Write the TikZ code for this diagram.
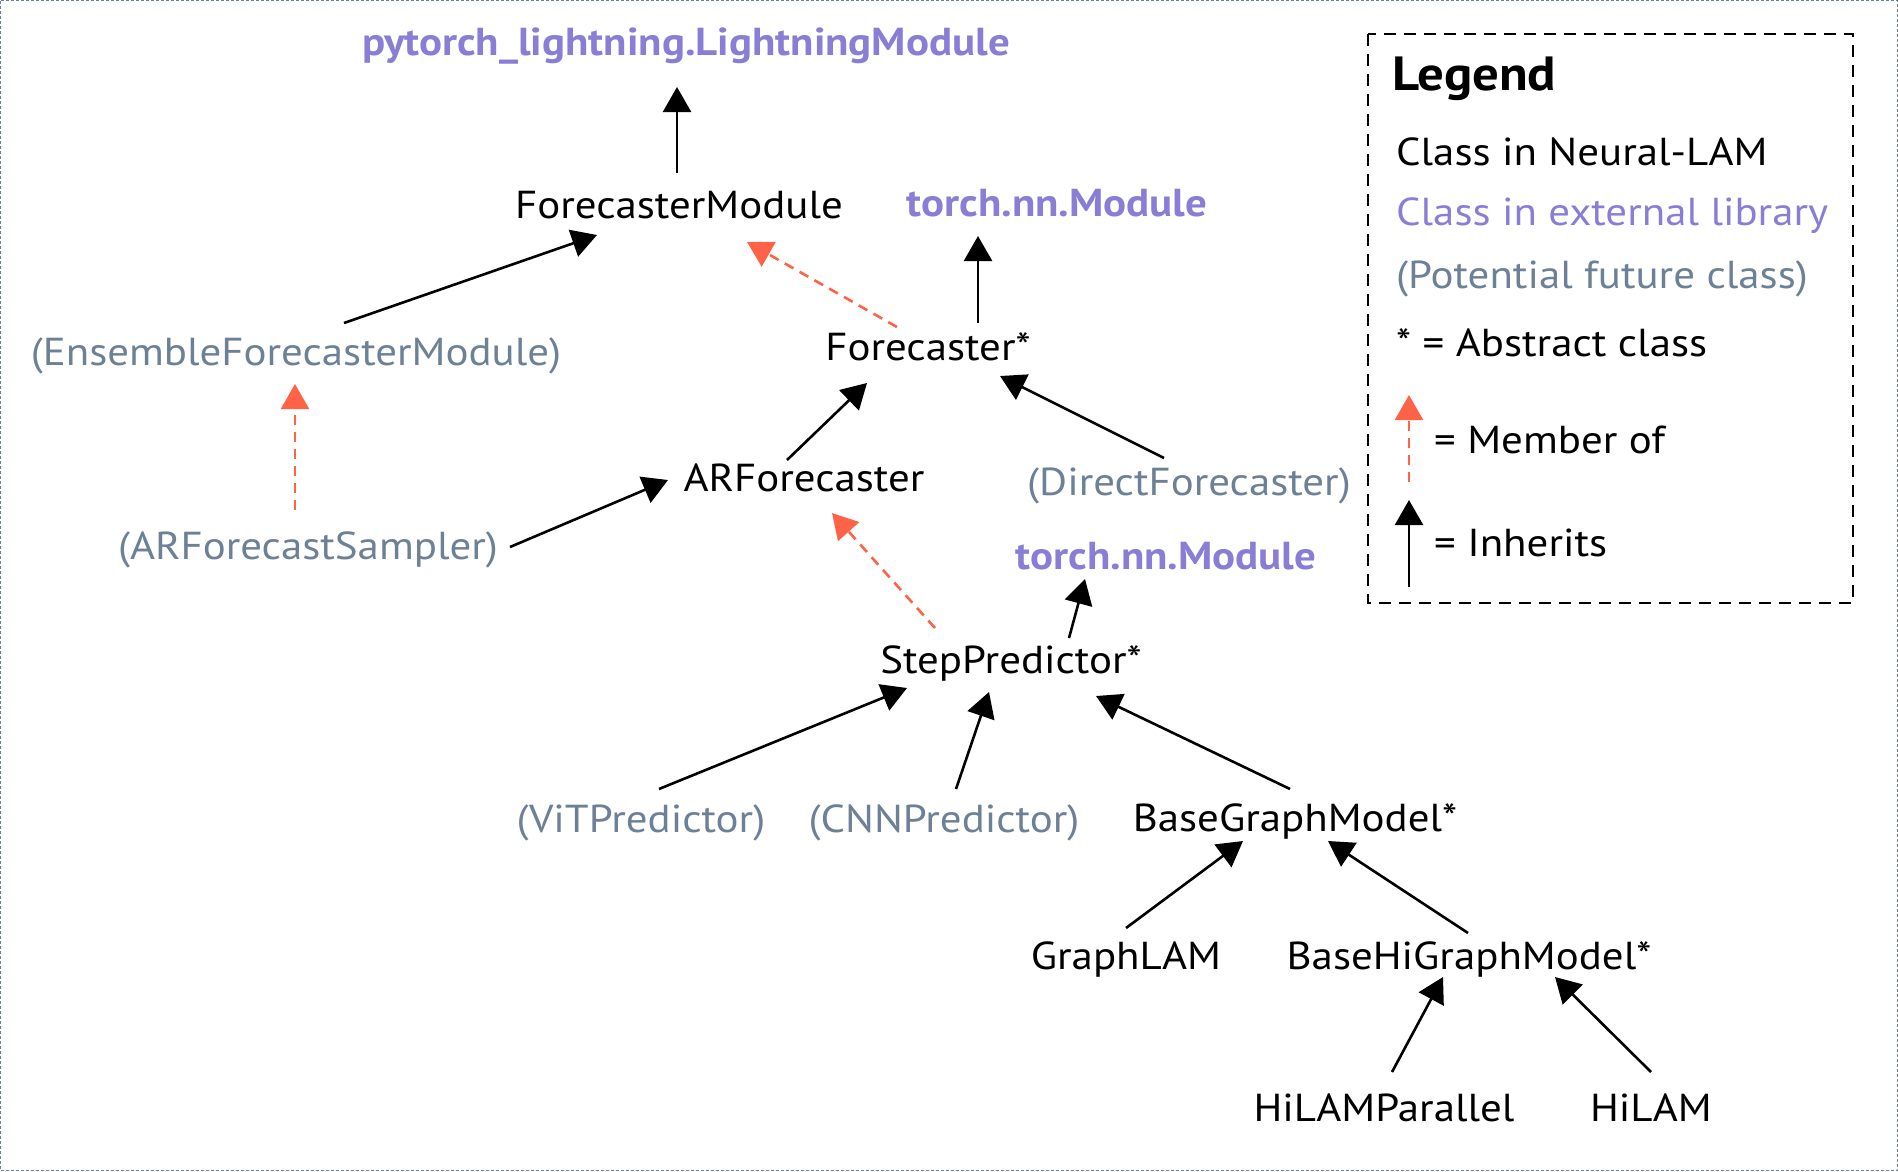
\documentclass[tikz,border=0pt]{standalone}
\usepackage{fontspec}
\setmainfont{PT Sans}[FakeStretch=1.1]
\usetikzlibrary{arrows.meta,calc}

\definecolor{extlib}{RGB}{137,125,214}
\definecolor{future}{RGB}{108,128,150}
\definecolor{member}{RGB}{255,99,71}

\begin{document}
\begin{tikzpicture}[x=1pt,y=-1pt,
   cls/.style={font=\fontsize{39}{44}\selectfont,text height=36pt,text depth=9pt,inner sep=0pt},
   ext/.style={cls,text=extlib,font=\fontsize{39}{44}\selectfont\bfseries},
   fut/.style={cls,text=future},
   lgd/.style={cls,anchor=west},
   inh/.style={-{Triangle[length=25pt,width=28pt]},line width=2.6pt},
   mem/.style={inh,member,dash pattern=on 10pt off 7pt}]
  \useasboundingbox (0,0) rectangle (1898,1171);
  \draw[future,line width=1.2pt,dash pattern=on 3pt off 2pt] (0.6,0.6) rectangle (1897.4,1170.4);

  % classes
  \node[ext] (LM)   at (686,42)   {pytorch\_lightning.LightningModule};
  \node[cls] (FM)   at (679,205)  {ForecasterModule};
  \node[ext] (TNNa) at (1057,203) {torch.nn.Module};
  \node[fut] (EFM)  at (296,352)  {(EnsembleForecasterModule)};
  \node[cls] (F)    at (928,347)  {Forecaster*};
  \node[cls] (ARF)  at (804,478)  {ARForecaster};
  \node[fut] (DF)   at (1189,482) {(DirectForecaster)};
  \node[fut] (ARFS) at (308,546)  {(ARForecastSampler)};
  \node[ext] (TNNb) at (1166,556) {torch.nn.Module};
  \node[cls] (SP)   at (1011,660) {StepPredictor*};
  \node[fut] (ViT)  at (641,819)  {(ViTPredictor)};
  \node[fut] (CNN)  at (944,819)  {(CNNPredictor)};
  \node[cls] (BGM)  at (1295,818) {BaseGraphModel*};
  \node[cls] (GL)   at (1126,956) {GraphLAM};
  \node[cls] (BHGM) at (1469,956) {BaseHiGraphModel*};
  \node[cls] (HLP)  at (1384,1108) {HiLAMParallel};
  \node[cls] (HL)   at (1651,1108) {HiLAM};

  \path
   ($(FM)+(-2,-32)$)    edge[inh] ($(LM)+(-9,45)$)
   ($(EFM)+(48,-29)$)   edge[inh] ($(FM)+(-82,30)$)
   ($(F)+(-31,-20)$)    edge[mem] ($(FM)+(68,37)$)
   ($(F)+(50,-24)$)     edge[inh] ($(TNNa)+(-79,33)$)
   ($(ARF)+(-17,-18)$)  edge[inh] ($(F)+(-61,36)$)
   ($(DF)+(-25,-24)$)   edge[inh] ($(F)+(72,29)$)
   ($(ARFS)+(-13,-36)$) edge[mem] ($(EFM)+(-1,32)$)
   ($(ARFS)+(202,1)$)   edge[inh] ($(ARF)+(-136,2)$)
   ($(SP)+(-76,-32)$)   edge[mem] ($(ARF)+(28,35)$)
   ($(SP)+(58,-22)$)    edge[inh] ($(TNNb)+(-81,23)$)
   ($(ViT)+(18,-30)$)   edge[inh] ($(SP)+(-104,28)$)
   ($(CNN)+(12,-30)$)   edge[inh] ($(SP)+(-22,32)$)
   ($(BGM)+(-5,-29)$)   edge[inh] ($(SP)+(85,36)$)
   ($(GL)+(0,-28)$)     edge[inh] ($(BGM)+(-52,23)$)
   ($(BHGM)+(-1,-23)$)  edge[inh] ($(BGM)+(33,23)$)
   ($(HLP)+(8,-36)$)    edge[inh] ($(BHGM)+(-26,21)$)
   ($(HL)+(0,-36)$)     edge[inh] ($(BHGM)+(86,21)$);

  % legend
  \draw[line width=2.6pt,dash pattern=on 12pt off 8pt] (1368,34) rectangle (1853,603);
  \node[lgd,font=\fontsize{48}{54}\selectfont\bfseries] (lgTitle) at (1392,77) {Legend};
  \node[lgd] (lgOwn) at (1396,152) {Class in Neural-LAM};
  \node[lgd,text=extlib] (lgExt) at (1396,212) {Class in external library};
  \node[lgd,text=future] (lgFut) at (1396,275) {(Potential future class)};
  \node[lgd] (lgAbs) at (1396,343) {* = Abstract class};
  \node[lgd] (lgMem) at (1434,440) {= Member of};
  \node[lgd] (lgInh) at (1434,543) {= Inherits};
  \coordinate (memTail) at (1409,482);
  \coordinate (memTip)  at (1409,395);
  \coordinate (inhTail) at (1409,587);
  \coordinate (inhTip)  at (1409,500);
  \draw[mem] (memTail) -- (memTip);
  \draw[inh] (inhTail) -- (inhTip);
\end{tikzpicture}
\end{document}
